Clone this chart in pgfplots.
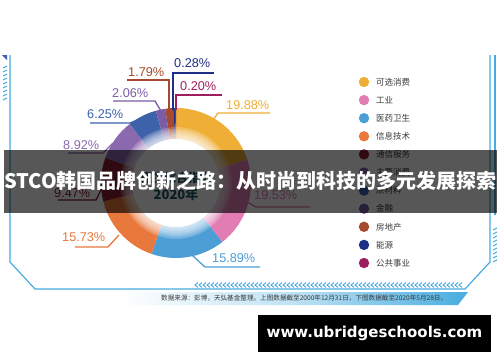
\documentclass[border=0pt]{standalone}
\usepackage{pgfplots}
\pgfplotsset{compat=1.18}
\usepackage{pgfplotstable}
\usepackage{fontspec}
\setmainfont{Liberation Sans}
\newfontfamily\cjk{Noto Sans CJK SC}
\newfontfamily\dvs{DejaVu Sans}
\definecolor{cA}{HTML}{EFAE36}
\definecolor{cB}{HTML}{E27DB4}
\definecolor{cC}{HTML}{4E9ED6}
\definecolor{cD}{HTML}{E8783B}
\definecolor{cE}{HTML}{8A2332}
\definecolor{cF}{HTML}{8B69AE}
\definecolor{cG}{HTML}{3D62AA}
\definecolor{cH}{HTML}{7B5DA5}
\definecolor{cI}{HTML}{A54A2E}
\definecolor{cJ}{HTML}{1E2F87}
\definecolor{cK}{HTML}{9C1E5F}
\definecolor{frameblue}{HTML}{46ACE0}
\definecolor{legtext}{HTML}{3A3A3A}
\definecolor{teal}{HTML}{1D5A6B}

\pgfplotstableread[col sep=comma]{
name,value,color
可选消费,19.88,cA
工业,19.53,cB
医药卫生,15.89,cC
信息技术,15.73,cD
通信服务,9.47,cE
主要消费,8.92,cF
原材料,6.25,cG
金融,2.06,cH
房地产,1.79,cI
能源,0.28,cJ
公共事业,0.20,cK
}\donut

\begin{document}
\begin{tikzpicture}[x=1bp,y=1bp]
\useasboundingbox (0,0) rectangle (500,362);
\fill[white] (0,0) rectangle (500,362);

% frame
\draw[frameblue, line width=1.2bp] (10,307) -- (10,100) -- (35,73) -- (465,73) -- (490,100) -- (490,307);
\draw[frameblue, line width=2bp] (495,307) -- (495,147);
\foreach \yy in {100,104,...,132} {\draw[frameblue, line width=1bp] (493,\yy) -- (497,\yy+2);}
\fill[cG] (2,307) -- (7,307) -- (7,302) -- cycle;
\foreach \yy in {262,266,...,296} {\draw[frameblue, line width=1bp] (3,\yy) -- (7,\yy+2);}
\foreach \xx in {195,199,...,459} {\draw[frameblue, line width=0.9bp] (\xx+3,79.5) -- (\xx,77) -- (\xx+3,74.5);}
\shade[left color=white, right color=frameblue, middle color=frameblue!35] (120,70) -- (468,70) -- (458,57) -- (120,57) -- cycle;
\node[anchor=west, inner sep=0pt, text=legtext, font=\cjk\fontsize{6.6bp}{7bp}\selectfont] at (161,63.5) {数据来源：彭博，天弘基金整理。上图数据截至2000年12月31日，下图数据截至2020年5月28日。};

\begin{axis}[x=1bp, y=1bp, xmin=0, xmax=500, ymin=0, ymax=362, hide axis,
  anchor=south west, at={(0,0)}, clip=false]
\def\cx{176}\def\cy{179}\def\ro{75}\def\ri{44}
\def\acc{0}
\pgfplotsforeachungrouped \k in {0,...,10}{%
  \pgfplotstablegetelem{\k}{value}\of{\donut}\let\val\pgfplotsretval
  \pgfplotstablegetelem{\k}{color}\of{\donut}\let\col\pgfplotsretval
  \pgfmathsetmacro\aS{90-3.6*\acc}%
  \pgfmathsetmacro\aE{90-3.6*(\acc+\val)}%
  \pgfmathsetmacro\xo{\cx+\ro*cos(\aS)}%
  \pgfmathsetmacro\yo{\cy+\ro*sin(\aS)}%
  \pgfmathsetmacro\xi{\cx+\ri*cos(\aE)}%
  \pgfmathsetmacro\yi{\cy+\ri*sin(\aE)}%
  \edef\temp{\noexpand\fill[\col] (axis cs:\xo,\yo) arc[start angle=\aS, end angle=\aE, radius=\ro bp] -- (axis cs:\xi,\yi) arc[start angle=\aE, end angle=\aS, radius=\ri bp] -- cycle;}%
  \temp
  \pgfmathsetmacro\acc{\acc+\val}%
}
\fill[white] (axis cs:176,179) circle[radius=44bp];
\pgfplotsinvokeforeach{46,48,50,52,54,56}{\fill[white, opacity=0.2] (axis cs:176,179) circle[radius=#1bp];}
\node[text=teal, font=\cjk\bfseries\fontsize{12bp}{13bp}\selectfont] at (axis cs:176,184) {恒生综合指数};
\node[text=teal, font=\cjk\bfseries\fontsize{13bp}{14bp}\selectfont] at (axis cs:176,167) {2020年};
\end{axis}

% labels
\tikzset{lab/.style={anchor=west, inner sep=0pt, font=\fontsize{12.7bp}{14bp}\selectfont}}
\draw[cA, line width=1.3bp] (270,249) -- (218,249) -- (211,239);
\node[lab, text=cA] at (226,257) {19.88\%};
\draw[cJ, line width=1.3bp] (214,289) -- (173,289) -- (173,252);
\node[lab, text=cJ] at (174,299) {0.28\%};
\draw[cK, line width=1.3bp] (222,267) -- (176,267) -- (176,252);
\node[lab, text=cK] at (180,276) {0.20\%};
\draw[cI, line width=1.3bp] (127,282) -- (169,282) -- (169,252);
\node[lab, text=cI] at (128,290) {1.79\%};
\draw[cH, line width=1.3bp] (113,261) -- (155,261) -- (161,251);
\node[lab, text=cH] at (112,269) {2.06\%};
\draw[cG, line width=1.3bp] (90,239) -- (130,239) -- (140,243);
\node[lab, text=cG] at (87,248) {6.25\%};
\draw[cF, line width=1.3bp] (68,209) -- (103,209) -- (113,219);
\node[lab, text=cF] at (63,217) {8.92\%};
\draw[cE, line width=1.3bp] (58,162) -- (96,162) -- (103,176);
\node[lab, text=cE] at (54,169) {9.47\%};
\draw[cD, line width=1.3bp] (75,115) -- (108,115) -- (119,127);
\node[lab, text=cD] at (62,125) {15.73\%};
\draw[cC, line width=1.3bp] (260,95) -- (205,95) -- (192,107);
\node[lab, text=cC] at (212,104) {15.89\%};
\draw[cB, line width=1.3bp] (310,155) -- (256,155) -- (247,160);
\node[lab, text=cB] at (254,167) {19.53\%};

% legend
\foreach \nm/\cl [count=\n from 0] in {可选消费/cA,工业/cB,医药卫生/cC,信息技术/cD,通信服务/cE,主要消费/cF,原材料/cG,金融/cH,房地产/cI,能源/cJ,公共事业/cK}{
  \fill[\cl] (364,280-18.1*\n) circle[radius=5.2];
  \node[anchor=west, inner sep=0pt, text=legtext, font=\cjk\fontsize{8.5bp}{9bp}\selectfont] at (376,280-18.1*\n) {\nm};
}

% banner
\fill[black, opacity=0.66] (4,149) rectangle (497,212);
\node[text=white, inner sep=0pt, font=\cjk\bfseries\fontsize{20bp}{22bp}\selectfont] at (250.5,181) {STCO韩国品牌创新之路：从时尚到科技的多元发展探索};

% watermark
\fill[black] (258,10) rectangle (491,47);
\node[text=white, font=\dvs\bfseries\fontsize{15bp}{17bp}\selectfont] at (374.5,28.5) {www.ubridgeschools.com};
\end{tikzpicture}
\end{document}
